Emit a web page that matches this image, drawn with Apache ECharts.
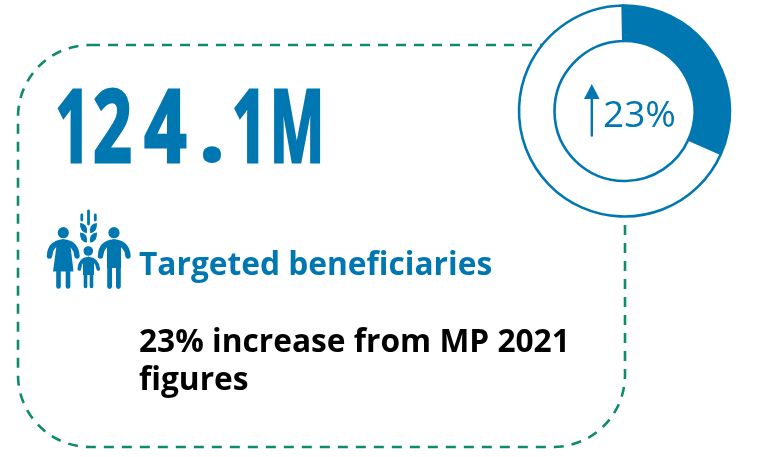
<!DOCTYPE html>
<html>
<head>
<meta charset="utf-8">
<style>html,body{margin:0;padding:0;background:#fff}#c{width:761px;height:457px}</style>
<script src="https://cdn.jsdelivr.net/npm/echarts@6/dist/echarts.min.js"></script>
</head>
<body>
<div id="c"></div>
<script>
// Figures shown on the card
const headline = '124.1M';
const caption = 'Targeted beneficiaries';
const noteLines = ['23% increase from MP 2021', 'figures'];
const ringLabel = '23%';
const ringNames = ['Increase', 'Remainder'];
const ringValues = [23, 49];

const BLUE = '#0177b1';
const GREEN = '#0f8a6c';

// Horizontal centre and horizontal scale of each headline glyph
const glyphCentres = [73, 112.5, 165.5, 212, 249.5, 297];
const glyphScales = [0.62, 0.68, 0.74, 1.05, 0.62, 0.58];

const chart = echarts.init(document.getElementById('c'), null, { renderer: 'canvas' });

const solid = (points) => ({ type: 'polygon', z: 20, shape: { points }, style: { fill: BLUE } });
const dot = (cx, cy, r) => ({ type: 'circle', z: 20, shape: { cx, cy, r }, style: { fill: BLUE } });
const seg = (x1, y1, x2, y2, w) => ({
  type: 'line', z: 20, shape: { x1, y1, x2, y2 },
  style: { stroke: BLUE, lineWidth: w, lineCap: 'round' }
});
const curve = (x1, y1, cx, cy, x2, y2, w) => ({
  type: 'bezierCurve', z: 20, shape: { x1, y1, cpx1: cx, cpy1: cy, x2, y2 },
  style: { stroke: BLUE, lineWidth: w, lineCap: 'round', fill: 'none' }
});
// Wheat grain whose tip leans outward; side is -1 for the left grains, 1 for the right
const grain = (x, y, side) => solid([
  [x, y + 10], [x + side * 3, y + 9.6], [x + side * 5.6, y + 7], [x + side * 6.8, y + 3.6], [x + side * 7, y],
  [x + side * 3.6, y + 0.8], [x + side * 1, y + 3], [x, y + 6]
]);

const familyIcon = [
  // woman
  dot(63.3, 232.7, 5.6),
  curve(49.5, 256, 50, 243, 63.3, 242, 5.4),
  curve(63.3, 242, 76, 243, 77, 256, 5.4),
  solid([[57, 242], [70, 242], [73.5, 271.5], [53, 271.5]]),
  seg(58.5, 271, 58.5, 286.5, 4.6), seg(68, 271, 68, 286.5, 4.6),
  // man
  dot(114, 232.7, 5.6),
  curve(100.5, 256, 101, 243, 114, 242, 5.4),
  curve(114, 242, 127, 243, 128, 256, 5.4),
  solid([[107, 242], [121, 242], [121, 268], [107, 268]]),
  seg(109.6, 266, 109.6, 286.5, 4.8), seg(118.4, 266, 118.4, 286.5, 4.8),
  // child
  dot(88.3, 251, 4.8),
  curve(79.3, 269, 80, 259, 88.3, 258.5, 3.6),
  curve(88.3, 258.5, 97, 259, 98.3, 269, 3.6),
  solid([[83, 258], [94, 258], [94, 275], [83, 275]]),
  seg(85.5, 274, 85.5, 286.5, 3.6), seg(91.5, 274, 91.5, 286.5, 3.6),
  // wheat ear
  seg(88.5, 211, 88.5, 224, 2.8),
  seg(81.8, 215, 81.8, 220, 2.8), seg(95.3, 215, 95.3, 220, 2.8),
  grain(87, 223, -1), grain(90, 223, 1),
  grain(87, 232.5, -1), grain(90, 232.5, 1)
];

const headlineGlyphs = headline.split('').map((ch, i) => ({
  type: 'text', z: 20, x: glyphCentres[i], y: 134, scaleX: glyphScales[i],
  style: {
    text: ch, fill: BLUE, stroke: BLUE, lineWidth: i === 3 ? 0 : 3,
    font: 'bold 100px "Open Sans"', textAlign: 'center', textVerticalAlign: 'middle'
  }
}));

chart.setOption({
  animation: false,
  backgroundColor: '#fff',
  series: [{
    type: 'pie',
    silent: true,
    z: 5,
    center: [624.5, 111],
    radius: [70, 105.5],
    startAngle: 91,
    clockwise: true,
    label: { show: false },
    labelLine: { show: false },
    itemStyle: { borderColor: BLUE, borderWidth: 2.6 },
    data: ringValues.map((value, i) => ({
      name: ringNames[i],
      value,
      itemStyle: { color: i === 0 ? BLUE : '#fff' }
    }))
  }],
  graphic: [
    {
      type: 'rect', z: 1,
      shape: { x: 18, y: 45, width: 607, height: 402, r: 72 },
      style: { fill: 'none', stroke: GREEN, lineWidth: 2.6, lineDash: [10, 8] }
    },
    // White disc hides the dashed frame behind the ring's hole
    { type: 'circle', z: 2, shape: { cx: 624.5, cy: 111, r: 105 }, style: { fill: '#fff' } },
    ...headlineGlyphs,
    {
      type: 'text', z: 20, x: 139, y: 266,
      style: { text: caption, fill: BLUE, font: 'bold 31.7px "Open Sans"', textVerticalAlign: 'middle' }
    },
    {
      type: 'text', z: 20, x: 139, y: 343,
      style: { text: noteLines[0], fill: '#000', font: 'bold 31.7px "Open Sans"', textVerticalAlign: 'middle' }
    },
    {
      type: 'text', z: 20, x: 139, y: 381,
      style: { text: noteLines[1], fill: '#000', font: 'bold 31.7px "Open Sans"', textVerticalAlign: 'middle' }
    },
    {
      type: 'text', z: 20, x: 603, y: 116,
      style: { text: ringLabel, fill: BLUE, font: '37px "Open Sans"', textVerticalAlign: 'middle' }
    },
    seg(591.8, 98, 591.8, 135.5, 2.4),
    solid([[584, 99], [599.6, 99], [591.8, 84]]),
    ...familyIcon
  ]
});
</script>
</body>
</html>
